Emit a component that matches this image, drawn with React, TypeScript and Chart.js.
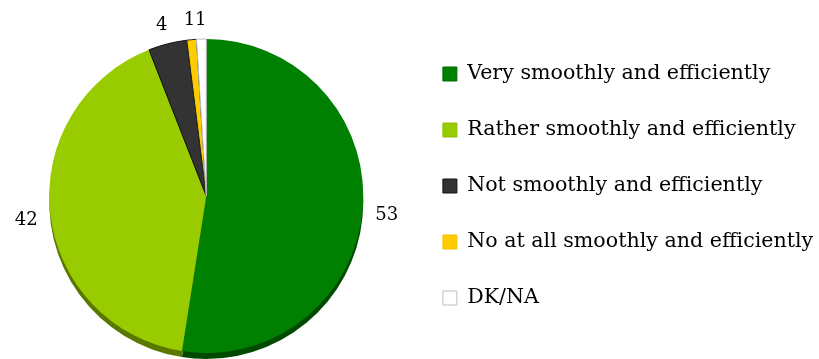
import { useEffect, useRef } from "react";
import { Chart, registerables } from "chart.js";

Chart.register(...registerables);

// Survey answer categories and their shares (%)
const categories = [
  "Very smoothly and efficiently",
  "Rather smoothly and efficiently",
  "Not smoothly and efficiently",
  "No at all smoothly and efficiently",
  "DK/NA",
];
const shares = [53, 42, 4, 1, 1];

const sliceColors = ["#008000", "#99cc00", "#333333", "#ffcc00", "#ffffff"];
const rimColors = ["#004a00", "#5a7800", "#141414", "#9a7a00", "#b8b8b8"];
const sliceBorders = ["#008000", "#99cc00", "#111111", "#222222", "#bfbfbf"];
const sliceBorderWidths = [0, 0, 1, 1, 1];
const legendBorders = ["#006e00", "#8cbf00", "#111111", "#f2c200", "#bfbfbf"];

const FONT = "'DejaVu Serif', 'Liberation Serif', serif";
const LEGEND_SIZE = 20.6;
const RIM_DEPTH = 6;

// Darker copy of every slice drawn a few pixels lower, giving the pie a thin side wall
const rimPlugin = {
  id: "pieRim",
  beforeDatasetsDraw(chart: any) {
    const ctx = chart.ctx;
    const meta = chart.getDatasetMeta(0);
    meta.data.forEach((el: any, i: number) => {
      const { x, y, startAngle, endAngle, outerRadius } = el.getProps(
        ["x", "y", "startAngle", "endAngle", "outerRadius"],
        true
      );
      ctx.save();
      ctx.beginPath();
      ctx.moveTo(x, y + RIM_DEPTH);
      ctx.arc(x, y + RIM_DEPTH, outerRadius, startAngle, endAngle);
      ctx.closePath();
      ctx.fillStyle = rimColors[i];
      ctx.fill();
      ctx.restore();
    });
  },
};

// Value labels placed just outside each slice
const outsideLabels = {
  id: "outsideLabels",
  afterDatasetsDraw(chart: any) {
    const ctx = chart.ctx;
    const meta = chart.getDatasetMeta(0);
    ctx.save();
    ctx.font = `18px ${FONT}`;
    ctx.fillStyle = "#000000";
    ctx.textAlign = "center";
    ctx.textBaseline = "middle";
    meta.data.forEach((el: any, i: number) => {
      const { x, y, startAngle, endAngle, outerRadius } = el.getProps(
        ["x", "y", "startAngle", "endAngle", "outerRadius"],
        true
      );
      const mid = (startAngle + endAngle) / 2;
      const r = outerRadius + 24;
      ctx.fillText(String(shares[i]), x + Math.cos(mid) * r, y + Math.sin(mid) * r + 5);
    });
    ctx.restore();
  },
};

// Nudge the legend column up and slightly left of its default slot
const legendShift = {
  id: "legendShift",
  afterLayout(chart: any) {
    const lg = chart.legend;
    if (lg) {
      lg.top -= 10;
      lg.bottom -= 10;
      lg.left -= 3;
      lg.right -= 3;
    }
  },
};

export default function App() {
  const canvasRef = useRef<HTMLCanvasElement | null>(null);

  useEffect(() => {
    if (!canvasRef.current) return;
    Chart.defaults.font.family = FONT;
    const baseGenerate = (Chart as any).overrides.doughnut.plugins.legend.labels.generateLabels;
    const chart = new Chart(canvasRef.current, {
      type: "pie",
      data: {
        labels: categories,
        datasets: [
          {
            data: shares,
            backgroundColor: sliceColors,
            borderColor: sliceBorders,
            borderWidth: sliceBorderWidths,
            radius: 157,
          },
        ],
      },
      options: {
        animation: false,
        responsive: true,
        maintainAspectRatio: false,
        layout: { padding: { left: 2, right: 0, top: 33, bottom: 0 } },
        plugins: {
          tooltip: { enabled: false },
          legend: {
            position: "right",
            labels: {
              boxWidth: 14,
              boxHeight: 14,
              padding: 56 - LEGEND_SIZE,
              color: "#000000",
              font: { family: FONT, size: LEGEND_SIZE },
              generateLabels(c: any) {
                const items = baseGenerate(c);
                return items.map((it: any, i: number) => ({
                  ...it,
                  strokeStyle: legendBorders[i],
                  lineWidth: 1,
                }));
              },
            },
          },
        },
      },
      plugins: [rimPlugin, outsideLabels, legendShift],
    });
    return () => chart.destroy();
  }, []);

  return (
    <div style={{ position: "fixed", left: 0, top: 0, width: 819, height: 359, background: "#ffffff" }}>
      <canvas ref={canvasRef} />
    </div>
  );
}
